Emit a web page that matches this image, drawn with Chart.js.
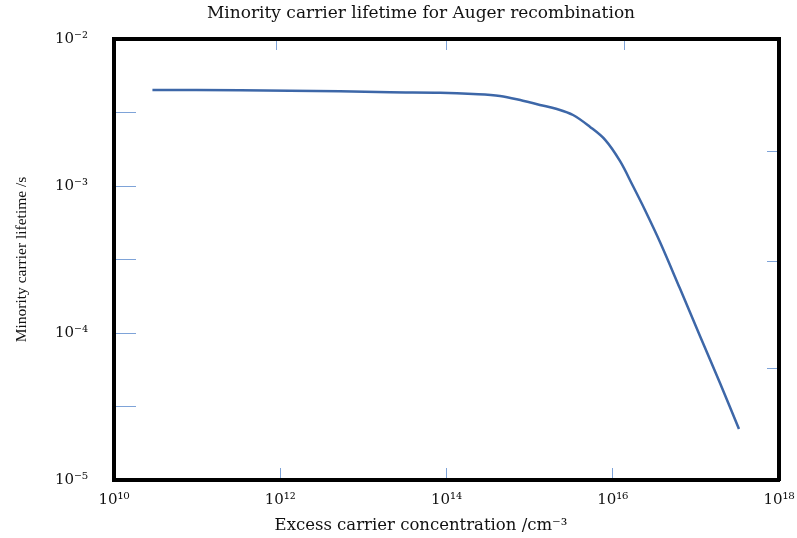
<!DOCTYPE html>
<html><head><meta charset="utf-8">
<script src="https://cdn.jsdelivr.net/npm/chart.js@4.4.1/dist/chart.umd.min.js"></script>
<style>html,body{margin:0;padding:0;background:#fff;} canvas{display:block;}</style>
</head><body>
<canvas id="c" width="797" height="538"></canvas>
<script>
const chartTitle = 'Minority carrier lifetime for Auger recombination';
const xAxisTitle = 'Excess carrier concentration /cm⁻³';
const yAxisTitle = 'Minority carrier lifetime /s';

const carrierConcentration = [2.9e10, 3.3e11, 5.2e12, 2.1e13, 8.4e13, 2.1e14, 4.4e14, 8.3e14, 1.33e15, 2.13e15, 3.33e15, 5.3e15, 8.1e15, 1.22e16, 1.75e16, 2.44e16, 3.7e16, 6.4e16, 1.12e17, 1.95e17, 3.3e17];
const lifetime = [4.50e-3, 4.48e-3, 4.41e-3, 4.34e-3, 4.31e-3, 4.23e-3, 4.10e-3, 3.80e-3, 3.56e-3, 3.34e-3, 3.04e-3, 2.53e-3, 2.06e-3, 1.48e-3, 1.0e-3, 6.87e-4, 4.16e-4, 2.02e-4, 9.55e-5, 4.57e-5, 2.22e-5];

const xTickValues = [1e10, 1e12, 1e14, 1e16, 1e18];
const xTickLabels = ['10¹⁰', '10¹²', '10¹⁴', '10¹⁶', '10¹⁸'];
const yTickValues = [1e-5, 3.16e-5, 1e-4, 3.16e-4, 1e-3, 3.16e-3, 1e-2];
const yTickLabels = ['10⁻⁵', '', '10⁻⁴', '', '10⁻³', '', '10⁻²'];
const topTickValues = [9.1e11, 1e14, 1.37e16];
const rightTickValues = [1.71e-3, 3.06e-4, 5.75e-5];

const points = carrierConcentration.map((n, i) => ({x: n, y: lifetime[i]}));

const frame = {display: true, color: '#000', width: 4};
function tickGrid(len) {
  return {display: true, drawOnChartArea: false, drawTicks: true, tickLength: -len,
          lineWidth: 1, tickWidth: 1, tickColor: '#7ea3d8'};
}
function setTicks(values) {
  return s => { s.ticks = values.map(v => ({value: v})); };
}
function fixSize(prop, size) {
  return s => {
    s[prop] = size;
    s.paddingLeft = 0; s.paddingRight = 0; s.paddingTop = 0; s.paddingBottom = 0;
  };
}
const tickFont = {family: 'DejaVu Serif', size: 15};

Chart.defaults.font.family = 'DejaVu Serif';

new Chart(document.getElementById('c'), {
  type: 'line',
  data: {
    datasets: [{
      label: 'Auger lifetime',
      data: points,
      xAxisID: 'x',
      yAxisID: 'y',
      borderColor: '#3d67a8',
      borderWidth: 2.5,
      pointRadius: 0,
      fill: false,
      tension: 0.35
    }]
  },
  options: {
    responsive: false,
    animation: false,
    devicePixelRatio: 1,
    layout: {padding: {left: 0, top: 0, bottom: 0, right: -45}},
    plugins: {
      legend: {display: false},
      tooltip: {enabled: false},
      title: {
        display: true, text: chartTitle, color: '#111',
        font: {family: 'DejaVu Serif', size: 17, weight: 'normal', lineHeight: '20px'},
        padding: {top: 4, bottom: 0}
      }
    },
    scales: {
      x: {
        type: 'logarithmic', position: 'bottom', min: 1e10, max: 1e18,
        border: frame, grid: tickGrid(12),
        afterBuildTicks: setTicks(xTickValues),
        afterFit: fixSize('height', 30),
        ticks: {autoSkip: false, maxRotation: 0, padding: 23, color: '#111', font: tickFont,
                callback: (v, i) => xTickLabels[i]}
      },
      xTitle: {
        type: 'linear', position: 'bottom', fullSize: true, min: 0, max: 1,
        grid: {display: false}, border: {display: false}, ticks: {display: false},
        afterFit: fixSize('height', 28),
        title: {display: true, text: xAxisTitle, color: '#111',
                font: {family: 'DejaVu Serif', size: 16.5, lineHeight: 1.2},
                padding: {top: 0, bottom: 2}}
      },
      x2: {
        type: 'logarithmic', position: 'top', min: 1e10, max: 1e18,
        border: frame, grid: tickGrid(11),
        afterBuildTicks: setTicks(topTickValues),
        afterFit: fixSize('height', 15),
        ticks: {display: false}
      },
      y: {
        type: 'logarithmic', position: 'left', min: 1e-5, max: 1e-2,
        border: frame, grid: tickGrid(22),
        afterBuildTicks: setTicks(yTickValues),
        afterFit: fixSize('width', 114),
        ticks: {autoSkip: false, padding: 48, color: '#111', font: tickFont,
                callback: (v, i) => yTickLabels[i]},
        title: {display: true, text: yAxisTitle, color: '#111',
                font: {family: 'Liberation Serif', size: 15.5, lineHeight: 1.2},
                padding: {top: 13, bottom: 0}}
      },
      y2: {
        type: 'logarithmic', position: 'right', min: 1e-5, max: 1e-2,
        border: frame, grid: tickGrid(12),
        afterBuildTicks: setTicks(rightTickValues),
        afterFit: fixSize('width', 63),
        ticks: {display: false}
      }
    }
  }
});
</script>
</body></html>
